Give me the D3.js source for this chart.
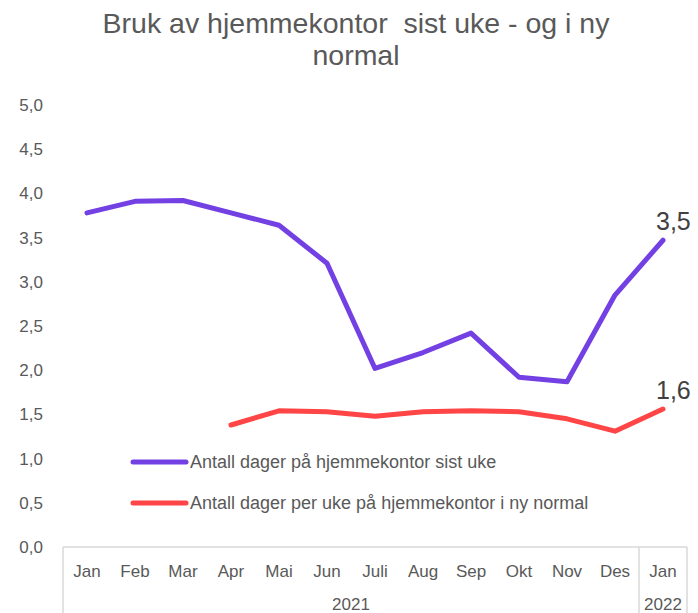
<!DOCTYPE html>
<html><head><meta charset="utf-8">
<script src="https://cdn.jsdelivr.net/npm/d3@7"></script>
<style>body{margin:0;background:#fff}svg{display:block;font-family:"Liberation Sans",Arial,sans-serif}</style>
</head><body>
<svg id="c" width="698" height="613"></svg>
<script>
const months = ["Jan","Feb","Mar","Apr","Mai","Jun","Juli","Aug","Sep","Okt","Nov","Des","Jan"];
const years = [{label:"2021", from:0, to:11},{label:"2022", from:12, to:12}];
const sistUke = [3.78,3.91,3.92,3.78,3.64,3.21,2.02,2.20,2.42,1.92,1.87,2.85,3.47];
const nyNormal = [null,null,null,1.38,1.54,1.53,1.48,1.53,1.54,1.53,1.45,1.31,1.56];
const yTicks = [0,0.5,1,1.5,2,2.5,3,3.5,4,4.5,5];
const seriesNames = ["Antall dager på hjemmekontor sist uke","Antall dager per uke på hjemmekontor i ny normal"];
const endLabels = ["3,5","1,6"];
const colors = ["#7341e3","#ff4545"];
const titleLines = ["Bruk av hjemmekontor  sist uke - og i ny","normal"];

const svg = d3.select("#c");
const txt = "#595959";
const x = d3.scaleBand().domain(d3.range(months.length)).range([63,687]);
const y = d3.scaleLinear().domain([0,5]).range([547,105]);
const fmt = v => d3.format(".1f")(v).replace(".",",");

// title
svg.append("g").selectAll("text").data(titleLines).join("text")
  .attr("x",356).attr("y",(d,i)=>33+i*32).attr("text-anchor","middle")
  .attr("font-size",28.5).attr("fill",txt).style("white-space","pre").attr("xml:space","preserve").text(d=>d);

// y axis labels
const ya = svg.append("g").attr("transform","translate(43,0)")
  .call(d3.axisLeft(y).tickValues(yTicks).tickFormat(fmt).tickSize(0).tickPadding(0));
ya.select(".domain").remove();
ya.selectAll("text").attr("font-size",17).attr("fill",txt).attr("font-family","Liberation Sans, Arial, sans-serif");

// x axis box
const g = svg.append("g").attr("stroke","#d9d9d9").attr("stroke-width",1.5);
g.append("line").attr("x1",63).attr("x2",687).attr("y1",547).attr("y2",547);
const seps = [x(0), x(12), x(12)+x.bandwidth()];
g.selectAll(".sep").data(seps).join("line").attr("x1",d=>d).attr("x2",d=>d).attr("y1",547).attr("y2",613);

svg.append("g").selectAll("text").data(months).join("text")
  .attr("x",(d,i)=>x(i)+x.bandwidth()/2).attr("y",577).attr("text-anchor","middle")
  .attr("font-size",17).attr("fill",txt).text(d=>d);
svg.append("g").selectAll("text").data(years).join("text")
  .attr("x",d=>(x(d.from)+x(d.to)+x.bandwidth())/2).attr("y",610).attr("text-anchor","middle")
  .attr("font-size",17).attr("fill",txt).text(d=>d.label);

// lines
const line = d3.line().defined(d=>d!=null).x((d,i)=>x(i)+x.bandwidth()/2).y(d=>y(d));
[sistUke,nyNormal].forEach((s,k)=>{
  svg.append("path").datum(s).attr("d",line).attr("fill","none")
    .attr("stroke",colors[k]).attr("stroke-width",5).attr("stroke-linecap","round").attr("stroke-linejoin","round");
  const last = s.length-1;
  svg.append("text").attr("x",x(last)+x.bandwidth()/2-7).attr("y",y(s[last])-10)
    .attr("font-size",25).attr("fill","#404040").text(endLabels[k]);
});

// legend
const lg = svg.append("g");
seriesNames.forEach((n,k)=>{
  const yy = 462 + k*41;
  lg.append("line").attr("x1",133).attr("x2",186).attr("y1",yy).attr("y2",yy)
    .attr("stroke",colors[k]).attr("stroke-width",5).attr("stroke-linecap","round");
  lg.append("text").attr("x",190).attr("y",yy+6).attr("font-size",18).attr("fill",txt).text(n);
});
</script>
</body></html>
